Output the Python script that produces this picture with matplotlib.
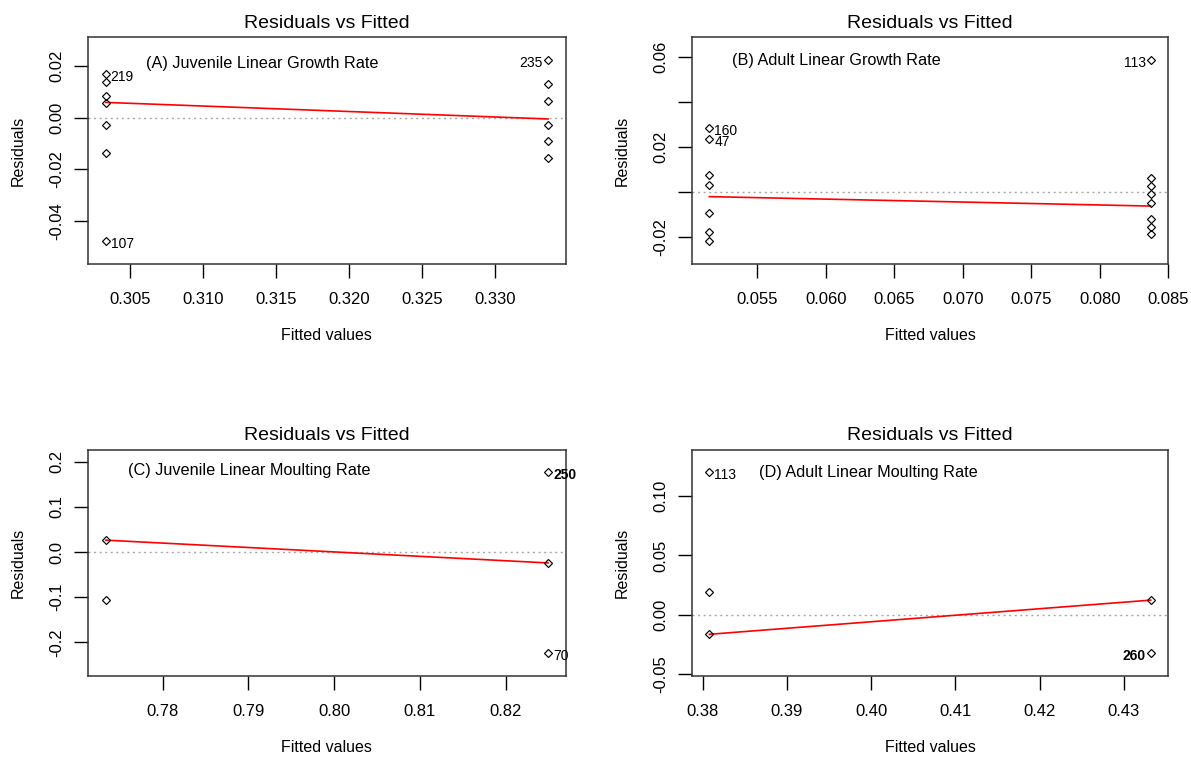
import matplotlib
matplotlib.use('Agg')
import matplotlib.pyplot as plt

plt.rcParams['font.family'] = ['Liberation Sans', 'DejaVu Sans']

# fitted values for the two groups, residuals per group, row ids of flagged points
a_fitted = [0.30334, 0.33361]
a_resid_lo = [0.0168, 0.0138, 0.0082, 0.0055, -0.0027, -0.0138, -0.0478]
a_resid_hi = [0.0222, 0.0130, 0.0065, -0.0027, -0.0090, -0.0154]
a_ids_lo = ["219", "", "", "", "", "", "107"]
a_ids_hi = ["235", "", "", "", "", ""]
a_smooth = [0.0059, -0.0005]

b_fitted = [0.05152, 0.08371]
b_resid_lo = [0.0282, 0.0237, 0.0076, 0.0030, -0.0092, -0.0176, -0.0220]
b_resid_hi = [0.0585, 0.0061, 0.0026, -0.0010, -0.0048, -0.0119, -0.0154, -0.0189]
b_ids_lo = ["160", "47", "", "", "", "", ""]
b_ids_hi = ["113", "", "", "", "", "", "", ""]
b_smooth = [-0.0021, -0.0063]

c_fitted = [0.77335, 0.82493]
c_resid_lo = [0.0265, -0.1070]
c_resid_hi = [0.1765, -0.0234, -0.2240]
c_ids_lo = ["", ""]
c_ids_hi = ["250", "", "70"]
c_smooth = [0.0265, -0.0240]

d_fitted = [0.38079, 0.43320]
d_resid_lo = [0.1199, 0.0195, -0.0165]
d_resid_hi = [0.0123, -0.0324]
d_ids_lo = ["113", "", ""]
d_ids_hi = ["", "260"]
d_smooth = [-0.0165, 0.0123]

# ids printed on top of each other (two rows share the same point)
overprinted = {"250", "260"}

captions = ["(A) Juvenile Linear Growth Rate", "(B) Adult Linear Growth Rate",
            "(C) Juvenile Linear Moulting Rate", "(D) Adult Linear Moulting Rate"]

a_xticks = [0.305, 0.310, 0.315, 0.320, 0.325, 0.330]
b_xticks = [0.055, 0.060, 0.065, 0.070, 0.075, 0.080, 0.085]
c_xticks = [0.78, 0.79, 0.80, 0.81, 0.82]
d_xticks = [0.38, 0.39, 0.40, 0.41, 0.42, 0.43]

a_yticks = [-0.04, -0.02, 0.00, 0.02]
a_ylabels = ["-0.04", "-0.02", "0.00", "0.02"]
b_yticks = [-0.02, 0.00, 0.02, 0.04, 0.06]
b_ylabels = ["-0.02", "", "0.02", "", "0.06"]
c_yticks = [-0.2, -0.1, 0.0, 0.1, 0.2]
c_ylabels = ["-0.2", "-0.1", "0.0", "0.1", "0.2"]
d_yticks = [-0.05, 0.00, 0.05, 0.10]
d_ylabels = ["-0.05", "0.00", "0.05", "0.10"]


def extend(lo, hi, f):
    d = (hi - lo) * f
    return lo - d, hi + d


def residual_panel(ax, fitted, resid_lo, resid_hi, ids_lo, ids_hi, smooth,
                   caption, cap_pos, xticks, xfmt, yticks, ylabels):
    x = [fitted[0]] * len(resid_lo) + [fitted[1]] * len(resid_hi)
    y = resid_lo + resid_hi
    ids = ids_lo + ids_hi

    ax.axhline(0, color='#a8a8a8', ls=(0, (1.5, 2.5)), lw=1, zorder=1)
    ax.plot(fitted, smooth, color='red', lw=1.2, zorder=2)
    ax.plot(x, y, ls='none', marker='D', ms=4.0, mfc='none', mec='black',
            mew=0.85, zorder=3)

    # y range stretched for the id labels, then the usual 4% axis padding
    ylo, yhi = extend(min(y), max(y), 0.08)
    ax.set_ylim(*extend(ylo, yhi, 0.04))
    ax.set_xlim(*extend(min(x), max(x), 0.04))

    # ids go right of the point unless it sits in the right half of the labelled points
    flagged = [i for i, s in enumerate(ids) if s]
    fx = [x[i] for i in flagged]
    mid = (min(fx) + max(fx)) / 2
    for i in flagged:
        right = not (x[i] > mid)
        ax.annotate(ids[i], (x[i], y[i]), xytext=(5 if right else -5, -3),
                    textcoords='offset pixels', ha='left' if right else 'right',
                    va='center', fontsize=10, annotation_clip=False,
                    fontweight='bold' if ids[i] in overprinted else 'normal')

    ax.text(cap_pos[0], cap_pos[1], caption, transform=ax.transAxes,
            fontsize=11.7, ha='left', va='center')

    ax.set_xticks(xticks)
    ax.set_xticklabels([xfmt.format(v) for v in xticks])
    ax.set_yticks(yticks)
    ax.set_yticklabels(ylabels, rotation=90, va='center')
    ax.tick_params(axis='x', length=10, width=1, pad=10, labelsize=12)
    ax.tick_params(axis='y', length=10, width=1, pad=7, labelsize=12)
    for s in ax.spines.values():
        s.set_linewidth(1.1)
        s.set_color('#333333')

    ax.set_title("Residuals vs Fitted", fontsize=14, pad=7)
    ax.set_xlabel("Fitted values", fontsize=11.5, va='center')
    ax.set_ylabel("Residuals", fontsize=11.5, va='center')
    ax.xaxis.set_label_coords(0.5, -0.315)
    ax.yaxis.set_label_coords(-0.145, 0.5)


fig = plt.figure(figsize=(11.91, 7.58), dpi=100)
ax_a = fig.add_axes([0.0739, 0.6513, 0.4011, 0.2995])
ax_b = fig.add_axes([0.5808, 0.6513, 0.4002, 0.2995])
ax_c = fig.add_axes([0.0739, 0.1082, 0.4011, 0.2986])
ax_d = fig.add_axes([0.5808, 0.1082, 0.4002, 0.2986])

residual_panel(ax_a, a_fitted, a_resid_lo, a_resid_hi, a_ids_lo, a_ids_hi, a_smooth,
               captions[0], (0.121, 0.885), a_xticks, "{:.3f}", a_yticks, a_ylabels)
residual_panel(ax_b, b_fitted, b_resid_lo, b_resid_hi, b_ids_lo, b_ids_hi, b_smooth,
               captions[1], (0.084, 0.897), b_xticks, "{:.3f}", b_yticks, b_ylabels)
residual_panel(ax_c, c_fitted, c_resid_lo, c_resid_hi, c_ids_lo, c_ids_hi, c_smooth,
               captions[2], (0.084, 0.906), c_xticks, "{:.2f}", c_yticks, c_ylabels)
residual_panel(ax_d, d_fitted, d_resid_lo, d_resid_hi, d_ids_lo, d_ids_hi, d_smooth,
               captions[3], (0.141, 0.900), d_xticks, "{:.2f}", d_yticks, d_ylabels)

fig.savefig('out.png', dpi=100)
